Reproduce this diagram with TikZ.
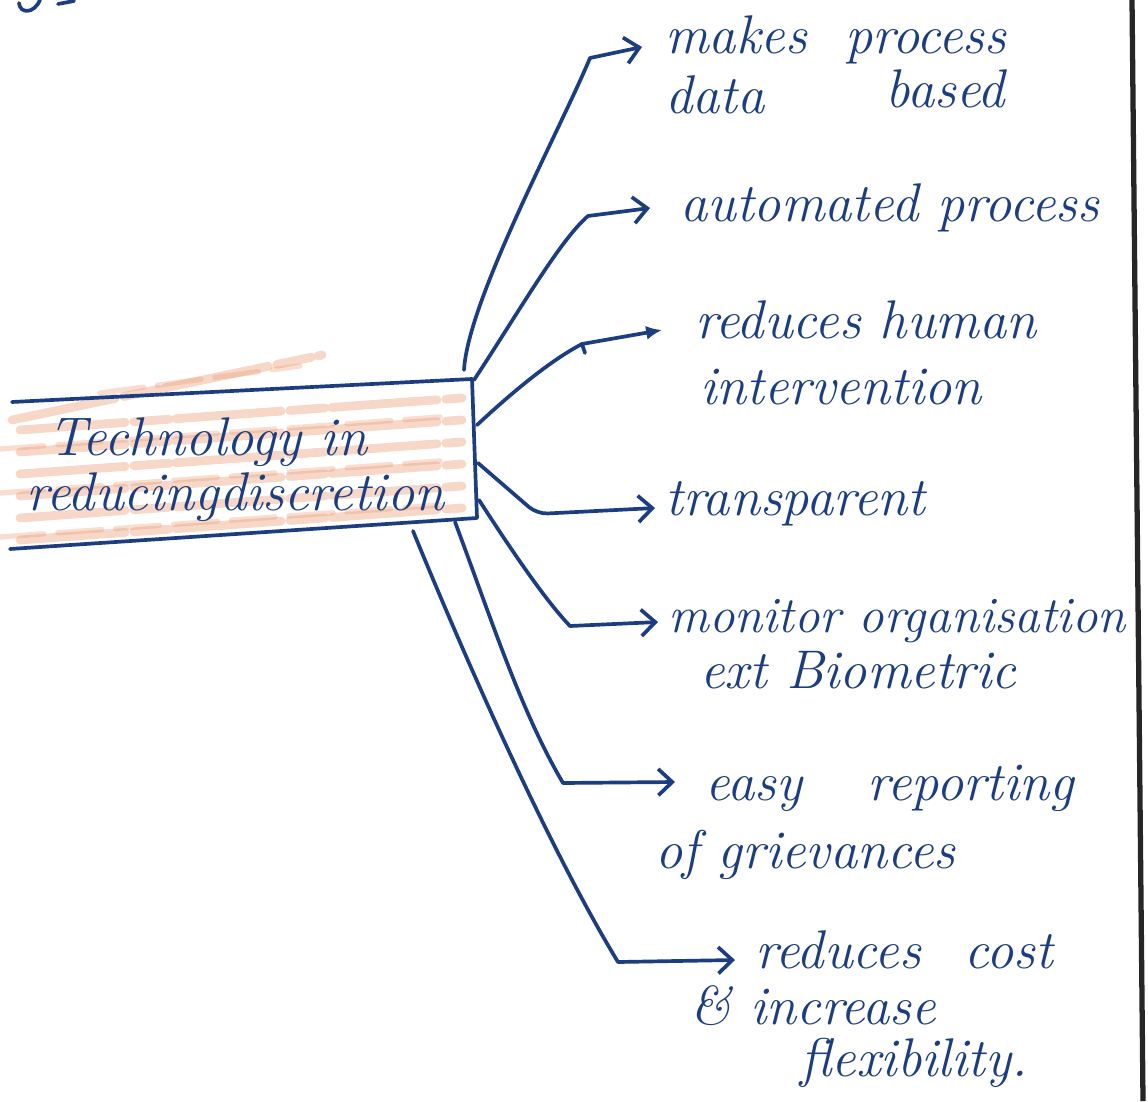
\documentclass[tikz,border=0pt]{standalone}
\usepackage{fontspec}
\usetikzlibrary{arrows.meta}
\definecolor{ink}{RGB}{28,62,128}
\definecolor{crayon}{RGB}{234,150,110}
\begin{document}
\begin{tikzpicture}[x=0.02cm,y=-0.02cm,
  pen/.style={draw=ink, line width=2.1pt, line cap=round, line join=round},
  branch/.style={pen, -{Straight Barb[length=8pt,width=15pt,line width=2.1pt]}},
  dotbranch/.style={pen, -{Latex[length=9pt,width=8pt]}},
  note/.style={text=ink, font=\fontsize{31}{34}\selectfont\itshape, anchor=base west, inner sep=0pt},
  hatch/.style={draw=crayon, line width=5pt, opacity=0.38, line cap=round, dash pattern=on 60pt off 5pt on 20pt off 4pt},
  hatchthin/.style={draw=crayon, line width=3pt, opacity=0.32, line cap=round, dash pattern=on 25pt off 8pt}]
\useasboundingbox (0,0) rectangle (1148,1101);
\fill[white] (0,0) rectangle (1148,1101);

% page edge
\draw[black!85, line width=3pt] (1132,0) -- (1143,1101);

% fragment of a word cut off at the top
\draw[pen] (40,0) .. controls (34,14) and (20,14) .. (19,3);
\draw[pen] (58,4) -- (74,1);

% crayon shading behind the central box
\draw[hatch] (12,420) -- (322,355);
\draw[hatchthin] (100,393) -- (300,366);
\foreach \y in {430,452,474,496,518,540} {
  \draw[hatch] (20,\y) -- (462,\y-32);
}
\foreach \y in {441,485,529} {
  \draw[hatchthin] (0,\y+8) -- (440,\y-24);
}

% central box (left side left open)
\draw[pen] (12,402) -- (472,379) -- (477,518) -- (10,549);
\node[note] (t1) at (48,455) {Technology in};
\node[note] (t2) at (26,510) {reducingdiscretion};

% branch start points on the box
\coordinate (s1) at (464,370);
\coordinate (s2) at (474,380);
\coordinate (s3) at (477,425);
\coordinate (s4) at (478,463);
\coordinate (s5) at (479,500);
\coordinate (s6) at (455,522);
\coordinate (s7) at (413,531);

% arrow tips
\coordinate (e1) at (642,47);
\coordinate (e2) at (650,208);
\coordinate (e3) at (662,330);
\coordinate (e4) at (655,508);
\coordinate (e5) at (658,622);
\coordinate (e6) at (675,782);
\coordinate (e7) at (735,960);

% connectors
\draw[branch] (s1) .. controls (468,300) and (560,130) .. (590,58) -- (e1);
\draw[branch] (s2) .. controls (520,310) and (560,240) .. (588,216) -- (e2);
\draw[dotbranch] (s3) .. controls (520,385) and (555,358) .. (582,344) -- (e3);
\draw[pen] (582,344) -- (585,353);
\draw[branch, rounded corners=6pt] (s4) -- (537,514) -- (e4);
\draw[branch] (s5) .. controls (510,548) and (545,600) .. (570,626) -- (e5);
\draw[branch] (s6) .. controls (490,615) and (520,710) .. (563,783) -- (e6);
\draw[branch] (s7) .. controls (470,670) and (550,850) .. (618,962) -- (e7);

% labels
\node[note] (l1a) at (665,54) {makes\hspace{0.7em}process};
\node[note] (l1b) at (665,114) {data};
\node[note] (l1c) at (885,108) {based};
\node[note] (l2) at (680,222) {automated process};
\node[note] (l3a) at (695,338) {reduces human};
\node[note] (l3b) at (700,404) {intervention};
\node[note] (l4) at (665,515) {transparent};
\node[note, font=\fontsize{29}{32}\selectfont\itshape] (l5a) at (668,632) {monitor organisation};
\node[note] (l5b) at (700,688) {ext Biometric};
\node[note] (l6a) at (705,800) {easy\hspace{1.2em}reporting};
\node[note] (l6b) at (655,868) {of grievances};
\node[note] (l7a) at (755,968) {reduces\hspace{0.8em}cost};
\node[note] (l7b) at (690,1024) {\& increase};
\node[note] (l7c) at (800,1076) {flexibility.};
\end{tikzpicture}
\end{document}
